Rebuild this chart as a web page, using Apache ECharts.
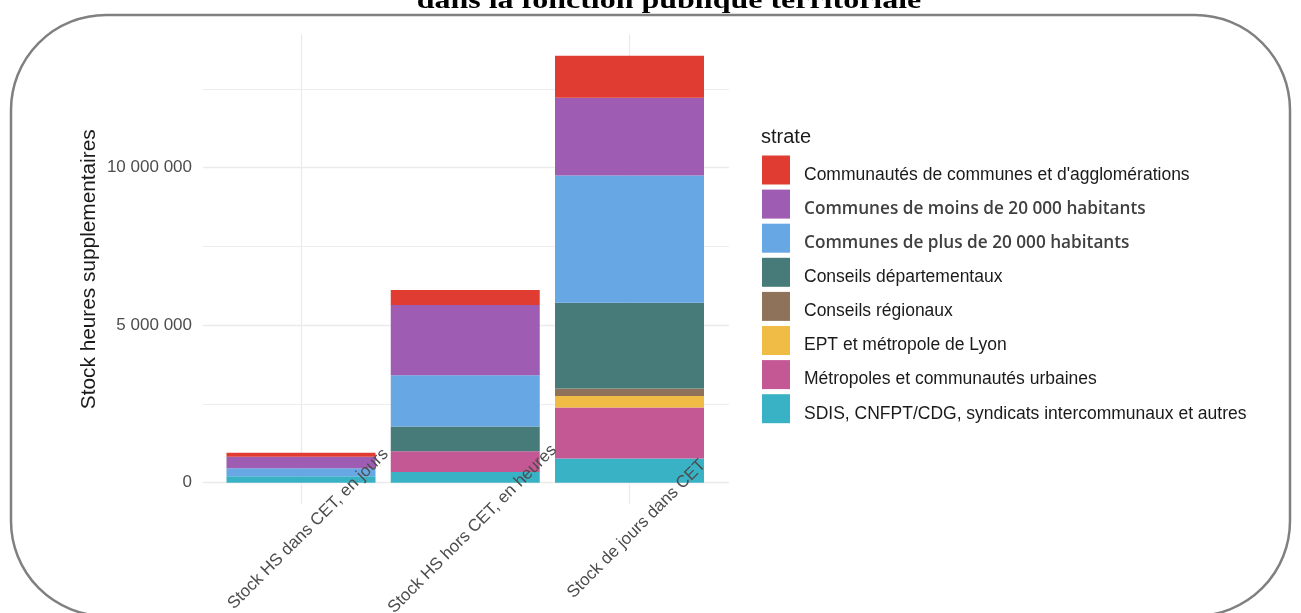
<!DOCTYPE html>
<html>
<head>
<meta charset="utf-8">
<script src="https://cdn.jsdelivr.net/npm/echarts@6/dist/echarts.min.js"></script>
<style>
  html, body { margin: 0; padding: 0; background: #fff; }
  #chart { width: 1301px; height: 613px; }
</style>
</head>
<body>
<div id="chart"></div>
<script>
var categories = ['Stock HS dans CET, en jours', 'Stock HS hors CET, en heures', 'Stock de jours dans CET'];

// strates, dans l'ordre de la légende
var strates = [
    "Communautés de communes et d'agglomérations",
    'Communes de moins de 20 000 habitants',
    'Communes de plus de 20 000 habitants',
    'Conseils départementaux',
    'Conseils régionaux',
    'EPT et métropole de Lyon',
    'Métropoles et communautés urbaines',
    'SDIS, CNFPT/CDG, syndicats intercommunaux et autres'
];
var couleurs = ['#e03c31', '#9e5db3', '#67a7e3', '#467b79', '#8e735a', '#f0bc45', '#c45894', '#3ab2c5'];

// valeurs par strate (une valeur par catégorie)
var communautes = [130000, 480000, 1330000];
var communesMoins = [360000, 2230000, 2470000];
var communesPlus = [260000, 1630000, 4040000];
var departementaux = [0, 780000, 2720000];
var regionaux = [0, 0, 240000];
var ept = [0, 0, 360000];
var metropoles = [0, 660000, 1620000];
var sdis = [200000, 340000, 770000];

var valeurs = [communautes, communesMoins, communesPlus, departementaux, regionaux, ept, metropoles, sdis];

var myChart = echarts.init(document.getElementById('chart'));

// expansion de 5% comme ggplot
var total = 0;
for (var c = 0; c < categories.length; c++) {
    var s = 0;
    valeurs.forEach(function (v) { s += v[c]; });
    total = Math.max(total, s);
}
var pad = total * 0.05;
var yMin = -pad, yMax = total + pad;

function espace(v) {
    return String(Math.round(v)).replace(/\B(?=(\d{3})+(?!\d))/g, ' ');
}

// empilement : SDIS en bas, communautés en haut
var series = [];
for (var i = strates.length - 1; i >= 0; i--) {
    series.push({
        name: strates[i],
        type: 'bar',
        stack: 'total',
        xAxisIndex: 1,
        yAxisIndex: 1,
        barWidth: 149,
        clip: false,
        itemStyle: { color: couleurs[i] },
        data: valeurs[i]
    });
}

var option = {
    animation: false,
    graphic: [
        {
            type: 'rect',
            silent: true,
            z: -10,
            shape: { x: 11, y: 15, width: 1279, height: 601, r: 95 },
            style: { fill: 'none', stroke: '#808080', lineWidth: 2.5 }
        },
        {
            type: 'text',
            silent: true,
            x: 669,
            y: 14,
            scaleX: 1.23,
            style: {
                text: 'dans la fonction publique territoriale',
                align: 'center',
                verticalAlign: 'bottom',
                fontFamily: '"Liberation Serif", serif',
                fontWeight: 'bold',
                fontSize: 26,
                fill: '#000'
            }
        }
    ],
    title: {
        text: 'strate',
        left: 756,
        top: 122,
        textStyle: { fontFamily: '"Liberation Sans", Arial', fontWeight: 'normal', fontSize: 20, color: '#1a1a1a' }
    },
    legend: {
        orient: 'vertical',
        left: 757,
        top: 150.5,
        itemWidth: 28,
        itemHeight: 29,
        itemGap: 5.1,
        icon: 'rect',
        selectedMode: false,
        data: strates,
        formatter: function (name) {
            if (name === strates[1] || name === strates[2]) {
                return '{b|' + name + '}';
            }
            return name;
        },
        textStyle: {
            fontFamily: '"Liberation Sans", Arial',
            fontSize: 17.5,
            color: '#1a1a1a',
            padding: [10, 0, 0, 9],
            rich: {
                b: {
                    fontFamily: '"Open Sans"',
                    fontWeight: 600,
                    fontSize: 17.2,
                    color: '#404040'
                }
            }
        }
    },
    grid: [
        { left: 203, right: 572, top: 34.5, bottom: 109, outerBoundsMode: 'none' },
        { left: 301, right: 671.5, top: 34.5, bottom: 109, outerBoundsMode: 'none' }
    ],
    xAxis: [
        { type: 'value', gridIndex: 0, show: false },
        {
            // libellés, dessinés par-dessus les barres
            type: 'category',
            gridIndex: 1,
            z: 10,
            data: categories,
            boundaryGap: false,
            axisLine: { show: false },
            axisTick: { show: false },
            splitLine: { show: false },
            axisLabel: {
                rotate: 45,
                align: 'center',
                verticalAlign: 'middle',
                margin: 32,
                padding: [0, 0, 0, 20],
                interval: 0,
                fontFamily: '"Liberation Sans", Arial',
                fontSize: 17,
                color: '#4d4d4d'
            }
        },
        {
            // lignes verticales de la grille, sous les barres
            type: 'category',
            gridIndex: 1,
            position: 'bottom',
            data: categories,
            boundaryGap: false,
            axisLine: { show: false },
            axisTick: { show: false },
            axisLabel: { show: false },
            splitLine: { show: true, lineStyle: { color: '#ebebeb', width: 1.3 } }
        }
    ],
    yAxis: [
        {
            type: 'value',
            gridIndex: 0,
            min: yMin,
            max: yMax,
            splitNumber: 3,
            name: 'Stock heures supplementaires',
            nameLocation: 'middle',
            nameRotate: 90,
            nameGap: 103,
            nameTextStyle: { fontFamily: '"Liberation Sans", Arial', fontSize: 20.8, color: '#1a1a1a' },
            axisLine: { show: false },
            axisTick: { show: false },
            axisLabel: {
                margin: 11,
                showMinLabel: false,
                showMaxLabel: false,
                fontFamily: '"Liberation Sans", Arial',
                fontSize: 17,
                color: '#4d4d4d',
                formatter: espace
            },
            splitLine: { show: true, showMinLine: false, showMaxLine: false, lineStyle: { color: '#ebebeb', width: 1.3 } },
            minorTick: { show: false, splitNumber: 2 },
            minorSplitLine: { show: true, lineStyle: { color: '#ededed', width: 1 } }
        },
        {
            type: 'value',
            gridIndex: 1,
            min: yMin,
            max: yMax,
            show: false
        }
    ],
    series: series
};

myChart.setOption(option);
</script>
</body>
</html>
